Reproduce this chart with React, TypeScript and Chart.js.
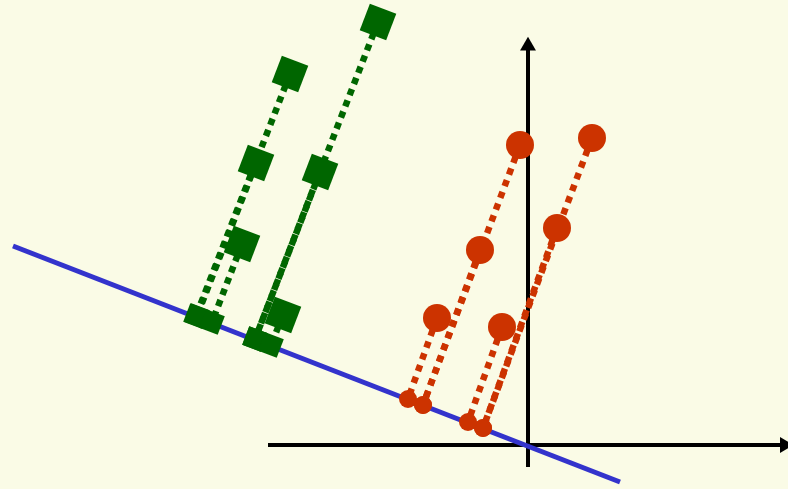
import React, { useEffect, useRef } from "react";
import { Chart, registerables } from "chart.js";

Chart.register(...registerables);

// Coordinates: origin at the axes crossing, 1 unit = 100 px, y up.
const greenPoints: [number, number][] = [
  [-1.5, 4.23],
  [-2.38, 3.71],
  [-2.72, 2.82],
  [-2.08, 2.73],
  [-2.86, 2.01],
  [-2.45, 1.3],
];
const greenProjections: [number, number][] = [
  [-2.73, 1.06],
  [-3.32, 1.29],
  [-3.31, 1.29],
  [-2.73, 1.06],
  [-3.16, 1.23],
  [-2.57, 1.0],
];
const redPoints: [number, number][] = [
  [-0.08, 3.0],
  [0.64, 3.07],
  [-0.48, 1.95],
  [0.29, 2.17],
  [-0.91, 1.27],
  [-0.26, 1.18],
];
const redProjections: [number, number][] = [
  [-1.05, 0.4],
  [-0.45, 0.17],
  [-1.05, 0.4],
  [-0.45, 0.17],
  [-1.2, 0.46],
  [-0.6, 0.23],
];
const projectionLine: [number, number][] = [
  [-5.15, 1.99],
  [0.92, -0.37],
];
const xAxisLine: [number, number][] = [
  [-2.6, 0],
  [2.53, 0],
];
const yAxisLine: [number, number][] = [
  [0, -0.22],
  [0, 3.99],
];
const xArrow: [number, number][] = [[2.566, 0]];
const yArrow: [number, number][] = [[0, 3.99]];

const X_MIN = -5.28;
const X_MAX = 2.6;
const Y_MIN = -0.44;
const Y_MAX = 4.45;

const BG = "#FAFBE6";
const GREEN = "#006600";
const RED = "#CC3300";
const BLUE = "#3333CC";
const BLACK = "#000000";

const pts = (arr: [number, number][]) => arr.map(([x, y]) => ({ x, y }));

export default function App() {
  const ref = useRef<HTMLCanvasElement | null>(null);

  useEffect(() => {
    if (!ref.current) return;
    const datasets: any[] = [];

    // markers (top)
    datasets.push({
      data: pts(greenPoints),
      pointStyle: "rect",
      pointRotation: 21,
      pointRadius: 20,
      pointBackgroundColor: GREEN,
      pointBorderColor: GREEN,
      pointBorderWidth: 0,
      showLine: false,
      order: 0,
    });
    datasets.push({
      data: pts(greenProjections),
      pointStyle: "rect",
      pointRotation: 21,
      pointRadius: 14,
      pointBackgroundColor: GREEN,
      pointBorderColor: GREEN,
      pointBorderWidth: 0,
      showLine: false,
      order: 0,
    });
    datasets.push({
      data: pts(redPoints),
      pointStyle: "circle",
      pointRadius: 14,
      pointBackgroundColor: RED,
      pointBorderColor: RED,
      pointBorderWidth: 0,
      showLine: false,
      order: 0,
    });
    datasets.push({
      data: pts(redProjections),
      pointStyle: "circle",
      pointRadius: 9,
      pointBackgroundColor: RED,
      pointBorderColor: RED,
      pointBorderWidth: 0,
      showLine: false,
      order: 0,
    });

    // dotted connectors
    greenPoints.forEach((p, i) => {
      datasets.push({
        data: pts([p, greenProjections[i]]),
        showLine: true,
        borderColor: GREEN,
        borderWidth: 6.5,
        borderDash: [6.5, 5.5],
        pointRadius: 0,
        order: 1,
      });
    });
    redPoints.forEach((p, i) => {
      datasets.push({
        data: pts([p, redProjections[i]]),
        showLine: true,
        borderColor: RED,
        borderWidth: 6.5,
        borderDash: [6.5, 6],
        pointRadius: 0,
        order: 1,
      });
    });

    // projection line
    datasets.push({
      data: pts(projectionLine),
      showLine: true,
      borderColor: BLUE,
      borderWidth: 5,
      pointRadius: 0,
      order: 2,
    });

    // axes
    datasets.push({
      data: pts(xAxisLine),
      showLine: true,
      borderColor: BLACK,
      borderWidth: 4,
      pointRadius: 0,
      order: 3,
    });
    datasets.push({
      data: pts(yAxisLine),
      showLine: true,
      borderColor: BLACK,
      borderWidth: 4,
      pointRadius: 0,
      order: 3,
    });
    datasets.push({
      data: pts(xArrow),
      pointStyle: "triangle",
      pointRotation: 90,
      pointRadius: 9.2,
      pointBackgroundColor: BLACK,
      pointBorderColor: BLACK,
      pointBorderWidth: 0,
      showLine: false,
      order: 3,
    });
    datasets.push({
      data: pts(yArrow),
      pointStyle: "triangle",
      pointRotation: 0,
      pointRadius: 9.2,
      pointBackgroundColor: BLACK,
      pointBorderColor: BLACK,
      pointBorderWidth: 0,
      showLine: false,
      order: 3,
    });

    datasets.forEach((d) => {
      d.clip = false;
      d.pointHoverRadius = d.pointRadius;
    });

    const bgPlugin = {
      id: "bg",
      beforeDraw(chart: any) {
        const ctx = chart.ctx;
        ctx.save();
        ctx.fillStyle = BG;
        ctx.fillRect(0, 0, chart.width, chart.height);
        ctx.restore();
      },
    };

    const chart = new Chart(ref.current, {
      type: "scatter",
      data: { datasets },
      options: {
        animation: false,
        responsive: false,
        events: [],
        layout: { padding: 0, autoPadding: false },
        plugins: { legend: { display: false }, tooltip: { enabled: false } },
        scales: {
          x: { type: "linear", min: X_MIN, max: X_MAX, display: false },
          y: { type: "linear", min: Y_MIN, max: Y_MAX, display: false },
        },
      },
      plugins: [bgPlugin],
    });
    return () => chart.destroy();
  }, []);

  return (
    <div style={{ position: "fixed", left: 0, top: 0, width: 788, height: 489 }}>
      <canvas ref={ref} width={788} height={489} style={{ width: 788, height: 489 }} />
    </div>
  );
}
